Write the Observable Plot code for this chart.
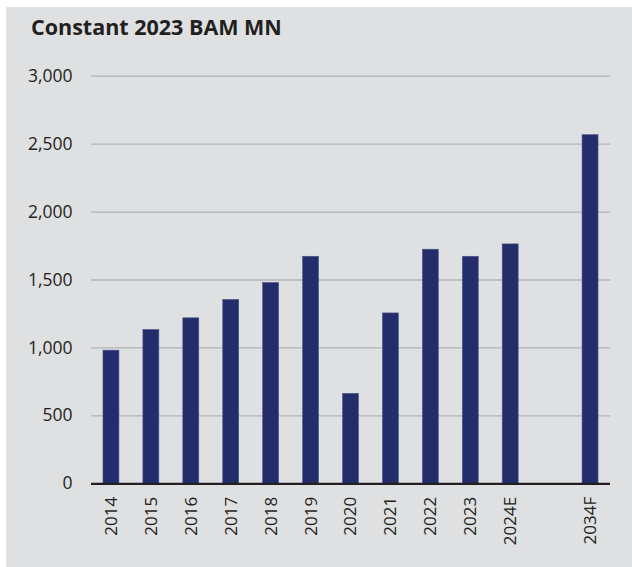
<!DOCTYPE html>
<html>
<head>
<meta charset="utf-8">
<script src="https://cdn.jsdelivr.net/npm/d3@7"></script>
<script src="https://cdn.jsdelivr.net/npm/@observablehq/plot@0.6"></script>
<style>
  html, body { margin: 0; padding: 0; background: #ffffff; }
  #panel { position: absolute; left: 6px; top: 7px; width: 626px; height: 560px; background: #dfe0e2; overflow: hidden; }
  #title { position: absolute; left: 25px; top: 5px; margin: 0; font-family: "Open Sans", sans-serif; font-weight: 700; font-size: 21.5px; color: #231f20; }
  #chart { position: absolute; left: 0; top: 0; }
</style>
</head>
<body>
<div id="panel">
  <div id="chart"></div>
  <h1 id="title">Constant 2023 BAM MN</h1>
</div>
<script>
const categories = ["2014", "2015", "2016", "2017", "2018", "2019", "2020", "2021", "2022", "2023", "2024E", "2034F"];
const values = [980, 1132, 1218, 1353, 1478, 1671, 662, 1254, 1723, 1671, 1762, 2566];
const xDomain = ["2014", "2015", "2016", "2017", "2018", "2019", "2020", "2021", "2022", "2023", "2024E", "gap", "2034F"];
const yTicks = [0, 500, 1000, 1500, 2000, 2500, 3000];
const gridTicks = [500, 1000, 1500, 2000, 2500, 3000];

const data = categories.map((c, i) => ({category: c, value: values[i]}));

const chart = Plot.plot({
  width: 626,
  height: 560,
  marginTop: 68.7,
  marginBottom: 83.7,
  marginLeft: 85,
  marginRight: 22,
  style: {background: "transparent", fontFamily: "Open Sans, sans-serif", color: "#231f20"},
  x: {domain: xDomain, paddingInner: 0.6, paddingOuter: 0.3, round: false, label: null},
  y: {domain: [0, 3000], label: null},
  marks: [
    Plot.ruleY(gridTicks, {stroke: "#b2b3b5", strokeWidth: 1.3}),
    Plot.barY(data, {x: "category", y: "value", fill: "#232d6b", stroke: "#4d5688", strokeWidth: 0.6}),
    Plot.ruleY([0], {stroke: "#231f20", strokeWidth: 2.2}),
    Plot.axisY({ticks: yTicks, tickSize: 0, tickPadding: 19, tickFormat: d3.format(","), fontSize: 17.5, label: null}),
    Plot.axisX({tickSize: 0, tickPadding: 13, tickRotate: -90, fontSize: 17, label: null,
      tickFormat: d => d === "gap" ? "" : d})
  ]
});
document.getElementById("chart").appendChild(chart);
</script>
</body>
</html>
